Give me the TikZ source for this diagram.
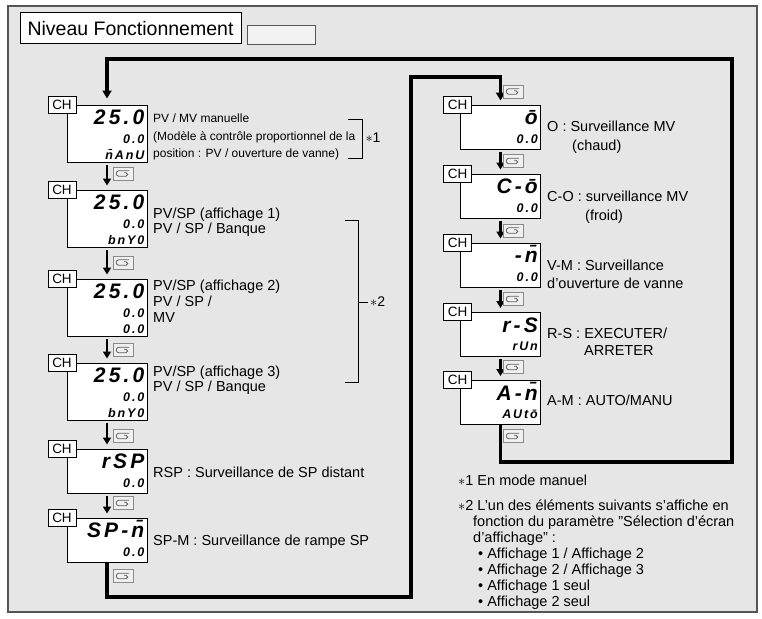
\documentclass[tikz,border=0pt]{standalone}
\usepackage{fontspec}
\setmainfont{Liberation Sans}
\newfontfamily\segfont[LetterSpace=15]{Liberation Sans}
\usetikzlibrary{arrows.meta,positioning,calc}
\definecolor{panelgray}{HTML}{E6E6E6}
\definecolor{framegray}{HTML}{555555}
\definecolor{keygray}{HTML}{8A8A8A}
\tikzset{
  keyicon/.pic={
    \draw[keygray, fill=panelgray!60!white, line width=0.8pt] (-10,-6.5) rectangle (10,6.5);
    \draw[keygray!70!black, line width=0.8pt] (6,-2.8) -- (-4,-2.8) arc (270:90:2.8) -- (3,2.8)
      arc (90:-90:1.8) -- (1,-0.8);
  },
}
\begin{document}
\begin{tikzpicture}[x=1pt, y=-1pt,
    disp/.style={rectangle, draw, fill=white, line width=1pt, minimum width=80pt, inner sep=0pt},
    disptall/.style={disp, minimum height=57pt},
    dispshort/.style={disp, minimum height=44pt},
    segbig/.style={anchor=base east, inner sep=0pt, font=\segfont\fontsize{21}{21}\selectfont\bfseries\itshape},
    segsmall/.style={anchor=base east, inner sep=0pt, font=\segfont\fontsize{12.5}{12.5}\selectfont\bfseries\itshape},
    chbox/.style={rectangle, draw, fill=white, line width=1pt, minimum width=28pt, minimum height=17pt, inner sep=1pt, font=\fontsize{13.5}{13.5}\selectfont, anchor=east},
    lbl/.style={anchor=west, align=left, inner sep=0pt, font=\fontsize{14.5}{15}\selectfont},
    note/.style={anchor=north west, align=left, inner sep=0pt, font=\fontsize{14.5}{16}\selectfont},
    steparrow/.style={-{Triangle[width=8pt,length=7pt]}, line width=2.5pt, shorten <=2pt, shorten >=4pt},
    loopline/.style={line width=3.5pt},
]
\useasboundingbox (0,0) rectangle (762,618);

% Panel and title
\draw[framegray, line width=1.5pt, fill=panelgray] (8,6) rectangle (757,612);
\node[draw, fill=white, line width=1pt, minimum width=221pt, minimum height=31pt, font=\fontsize{19.5}{20}\selectfont] (title) at (130.5,28.5) {Niveau Fonctionnement};
\node[draw=framegray, fill=panelgray!50!white, line width=0.8pt, minimum width=68pt, minimum height=19pt, right=5pt of title.south east, anchor=south west] (blank) {};

% Left column displays
\node[disptall] (d1) at (107,133.5) {};
\node[disptall] (d2) at (107,218.5) {};
\node[disptall] (d3) at (107,307.5) {};
\node[disptall] (d4) at (107,391.5) {};
\node[dispshort] (d5) at (107,471) {};
\node[dispshort] (d6) at (107,540) {};

\foreach \d/\ra/\rb/\rc in {d1/25.0/0.0/{\=nAnU}, d2/25.0/0.0/bnY0, d3/25.0/0.0/0.0, d4/25.0/0.0/bnY0} {
  \node[segbig] (\d-a) at ($(\d.north east)+(-3,20)$) {\ra};
  \node[segsmall] (\d-b) at ($(\d.north east)+(-3,38.5)$) {\rb};
  \node[segsmall] (\d-c) at ($(\d.north east)+(-3,55)$) {\rc};
}
\foreach \d/\ra/\rb in {d5/rSP/0.0, d6/{SP-\=n}/0.0} {
  \node[segbig] (\d-a) at ($(\d.north east)+(-3,20)$) {\ra};
  \node[segsmall] (\d-b) at ($(\d.north east)+(-3,38.5)$) {\rb};
}

\foreach \d in {d1,d2,d3,d4,d5,d6}
  \node[chbox] (ch\d) at ([xshift=10pt]\d.north west) {CH};

% Right column displays
\node[dispshort] (r1) at (500.5,127) {};
\node[dispshort] (r2) at (500.5,196) {};
\node[dispshort] (r3) at (500.5,265) {};
\node[dispshort] (r4) at (500.5,334.5) {};
\node[dispshort] (r5) at (500.5,402.5) {};

\foreach \d/\ra/\rb in {r1/{\=o}/0.0, r2/{C-\=o}/0.0, r3/{-\=n}/0.0, r4/r-S/rUn, r5/{A-\=n}/{AUt\=o}} {
  \node[segbig] (\d-a) at ($(\d.north east)+(-3,20)$) {\ra};
  \node[segsmall] (\d-b) at ($(\d.north east)+(-3,38.5)$) {\rb};
}

\foreach \d in {r1,r2,r3,r4,r5}
  \node[chbox] (ch\d) at ([xshift=12pt]\d.north west) {CH};

% Step arrows
\draw[steparrow] (d1.south) -- (d2.north);
\draw[steparrow] (d2.south) -- (d3.north);
\draw[steparrow] (d3.south) -- (d4.north);
\draw[steparrow] (d4.south) -- (d5.north);
\draw[steparrow] (d5.south) -- (d6.north);
\draw[steparrow] (r1.south) -- (r2.north);
\draw[steparrow] (r2.south) -- (r3.north);
\draw[steparrow] (r3.south) -- (r4.north);
\draw[steparrow] (r4.south) -- (r5.north);

% Return loops
\coordinate (lbot) at (411,597);
\coordinate (ltop) at (411,77);
\coordinate (rbot) at (732,462);
\coordinate (rtop) at (732,59);
\draw[loopline, -{Triangle[width=9pt,length=8pt]}, shorten >=4pt] (d6.south) |- (lbot) -- (ltop) -| (r1.north);
\draw[loopline, -{Triangle[width=9pt,length=8pt]}, shorten >=6pt] (r5.south) |- (rbot) -- (rtop) -| (d1.north);

% Key icons
\foreach \y in {173.5,262.5,350,436,503,576}
  \pic at (123,\y) {keyicon};
\foreach \y in {91.5,161,230.5,299,367,436}
  \pic at (513,\y) {keyicon};

% Left labels
\node[lbl, font=\fontsize{12}{17.5}\selectfont] (t1) at (153,137) {PV / MV manuelle\\(Modèle à contrôle proportionnel de la\\position : PV / ouverture de vanne)};
\node[lbl] (t2) at (153,222) {PV/SP (affichage 1)\\PV / SP / Banque};
\node[lbl, font=\fontsize{14.5}{16}\selectfont] (t3) at (153,301) {PV/SP (affichage 2)\\PV / SP /\\MV};
\node[lbl] (t4) at (153,380.5) {PV/SP (affichage 3)\\PV / SP / Banque};
\node[lbl] (t5) at (153,472) {RSP : Surveillance de SP distant};
\node[lbl] (t6) at (153,542) {SP-M : Surveillance de rampe SP};

% Brackets
\draw[line width=1pt] (348,119) -- (362,119) -- (362,158) -- (348,158);
\node[font=\fontsize{14}{14}\selectfont, inner sep=0pt] (n1) at (373,138) {$\ast$1};
\draw[line width=1pt] (345,220) -- (358,220) -- (358,382) -- (345,382);
\draw[line width=1pt] (358,302) -- (368,302);
\node[font=\fontsize{14}{14}\selectfont, inner sep=0pt, anchor=west] (n2) at (370,302) {$\ast$2};

% Right labels
\node[lbl, font=\fontsize{14.5}{19}\selectfont] (u1) at (547,137.5) {O : Surveillance MV\\\hspace*{25pt}(chaud)};
\node[lbl, font=\fontsize{14.5}{19}\selectfont] (u2) at (547,207.5) {C-O : surveillance MV\\\hspace*{38pt}(froid)};
\node[lbl, font=\fontsize{14.5}{18}\selectfont] (u3) at (547,274) {V-M : Surveillance\\d'ouverture de vanne};
\node[lbl, font=\fontsize{14.5}{17}\selectfont] (u4) at (547,341.5) {R-S : EXECUTER/\\\hspace*{37pt}ARRETER};
\node[lbl] (u5) at (547,400) {A-M : AUTO/MANU};

% Notes
\node[note] (note1) at (458,475) {$\ast$1 En mode manuel};
\node[note] (note2) at (458,500) {$\ast$2 L'un des éléments suivants s'affiche en\\
  \hspace*{15pt}fonction du paramètre "Sélection d'écran\\
  \hspace*{15pt}d'affichage" :\\
  \hspace*{20pt}• Affichage 1 / Affichage 2\\
  \hspace*{20pt}• Affichage 2 / Affichage 3\\
  \hspace*{20pt}• Affichage 1 seul\\
  \hspace*{20pt}• Affichage 2 seul};

\end{tikzpicture}
\end{document}
